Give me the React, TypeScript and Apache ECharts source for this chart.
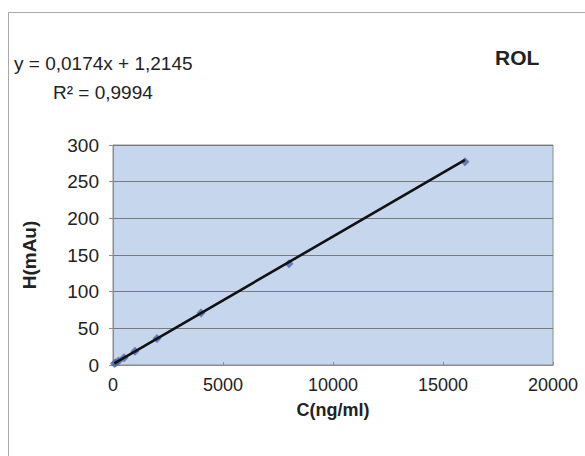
import React, { useEffect, useRef } from "react";
import * as echarts from "echarts";

// Calibration standards for ROL: concentration (ng/ml) and peak height (mAu)
const concentrations = [62.5, 125, 250, 500, 1000, 2000, 4000, 8000, 16000];
const heights = [2.0, 3.1, 5.3, 9.8, 18.6, 36, 71, 138, 277];

// Linear regression reported on the chart
const slope = 0.0174;
const intercept = 1.2145;
const equationLabel = "y = 0,0174x + 1,2145";
const r2Label = "R² = 0,9994";
const analyteLabel = "ROL";

const xTicks = { min: 0, max: 20000, interval: 5000 };
const yTicks = { min: 0, max: 300, interval: 50 };

const FONT = "Liberation Sans, Arial, sans-serif";

export default function App() {
  const ref = useRef<HTMLDivElement>(null);

  useEffect(() => {
    if (!ref.current) return;
    const chart = echarts.init(ref.current, null, { renderer: "svg" });

    const points = concentrations.map((c, i) => [c, heights[i]]);
    const xMin = Math.min(...concentrations);
    const xMax = Math.max(...concentrations);
    const trend = [
      [xMin, slope * xMin + intercept],
      [xMax, slope * xMax + intercept],
    ];

    chart.setOption({
      animation: false,
      backgroundColor: "#ffffff",
      grid: {
        left: 113,
        right: 32,
        top: 145,
        bottom: 91,
        show: true,
        backgroundColor: "#c6d6ec",
        borderColor: "#8c8c8c",
        borderWidth: 1,
      },
      xAxis: {
        type: "value",
        min: xTicks.min,
        max: xTicks.max,
        interval: xTicks.interval,
        name: "C(ng/ml)",
        nameLocation: "middle",
        nameGap: 36,
        nameTextStyle: { fontFamily: FONT, fontSize: 18, fontWeight: "bold", color: "#222" },
        axisLine: { show: true, lineStyle: { color: "#8c8c8c", width: 1 } },
        axisTick: { show: true, inside: true, length: 3, lineStyle: { color: "#8c8c8c" } },
        axisLabel: {
          fontFamily: FONT,
          fontSize: 18,
          color: "#222",
          margin: 11,
          formatter: (v: number) => String(v),
        },
        splitLine: { show: false },
      },
      yAxis: {
        type: "value",
        min: yTicks.min,
        max: yTicks.max,
        interval: yTicks.interval,
        name: "H(mAu)",
        nameLocation: "middle",
        nameGap: 74,
        nameRotate: 90,
        nameTextStyle: { fontFamily: FONT, fontSize: 19, fontWeight: "bold", color: "#222" },
        axisLine: { show: true, lineStyle: { color: "#8c8c8c", width: 1 } },
        axisTick: { show: true, length: 4, lineStyle: { color: "#8c8c8c" } },
        axisLabel: { fontFamily: FONT, fontSize: 19, color: "#222", margin: 14 },
        splitLine: { show: true, lineStyle: { color: "#7a7a7a", width: 1 } },
      },
      graphic: [
        {
          type: "rect",
          shape: { x: 8.5, y: 12.5, width: 620, height: 500 },
          style: { fill: "none", stroke: "#a8a8a8", lineWidth: 1 },
          silent: true,
        },
        {
          type: "text",
          left: 14,
          top: 54,
          style: { text: equationLabel, fontFamily: FONT, fontSize: 19, fill: "#222" },
        },
        {
          type: "text",
          left: 53,
          top: 83,
          style: { text: r2Label, fontFamily: FONT, fontSize: 19, fill: "#222" },
        },
        {
          type: "text",
          left: 495,
          top: 47,
          style: { text: analyteLabel, fontFamily: FONT, fontSize: 21, fontWeight: "bold", fill: "#222" },
        },
      ],
      series: [
        {
          type: "scatter",
          data: points,
          symbol: "diamond",
          symbolSize: 9,
          itemStyle: { color: "#4d68a8" },
          z: 2,
        },
        {
          type: "line",
          data: trend,
          showSymbol: false,
          symbol: "none",
          lineStyle: { color: "#111111", width: 2.6 },
          z: 3,
        },
      ],
    });

    return () => chart.dispose();
  }, []);

  return (
    <div
      ref={ref}
      style={{ position: "fixed", left: 0, top: 0, width: 585, height: 456 }}
    />
  );
}
